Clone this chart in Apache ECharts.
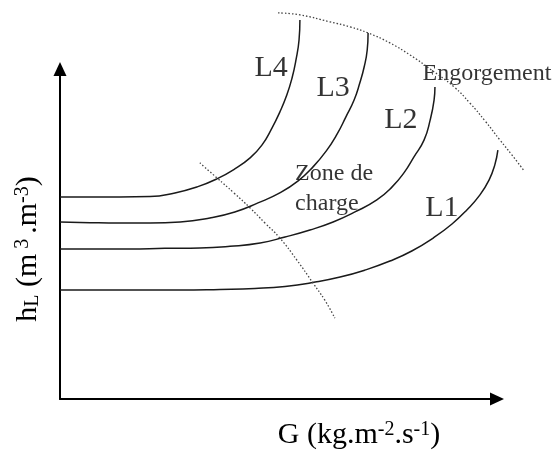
<!DOCTYPE html>
<html>
<head>
<meta charset="utf-8">
<script src="https://cdn.jsdelivr.net/npm/echarts@6/dist/echarts.min.js"></script>
<style>
  html, body { margin: 0; padding: 0; background: #fff; }
  #chart { width: 554px; height: 455px; }
</style>
</head>
<body>
<div id="chart"></div>
<script>
// G (x) and hL (y) in arbitrary units, the drawn axes run 0-100
const l1X = [0, 9.2, 18.3, 27.5, 36.6, 44.6, 51.5, 58.4, 64.1, 69.8, 75.5, 80.5, 85.4, 89.7, 93.1, 96.1, 98.2, 99.5, 100.2]
const l1Y = [33.8, 33.8, 33.8, 33.8, 34.0, 34.3, 34.9, 36.2, 37.7, 39.8, 42.5, 45.5, 49.4, 53.6, 57.8, 62.3, 66.8, 71.3, 75.7]

const l2X = [0, 8.0, 16.0, 24.0, 32.0, 38.9, 45.8, 51.5, 57.2, 62.5, 67.5, 72.5, 76.0, 78.7, 81.0, 83.3, 84.7, 85.6, 85.8]
const l2Y = [46.1, 46.1, 46.1, 46.3, 46.4, 46.9, 47.9, 49.7, 51.8, 54.2, 57.2, 60.8, 64.7, 68.9, 73.7, 78.7, 84.7, 90.7, 94.6]

const l3X = [0, 6.9, 13.7, 20.6, 27.5, 34.3, 40.0, 45.3, 50.3, 54.5, 57.9, 60.9, 63.4, 65.4, 67.3, 68.6, 69.6, 70.3, 70.5]
const l3Y = [54.2, 54.0, 53.9, 53.9, 54.2, 55.4, 57.2, 59.9, 62.9, 66.5, 70.7, 75.4, 80.5, 85.6, 90.7, 95.8, 100.6, 105.7, 110.8]

const l4X = [0, 6.9, 13.7, 20.6, 26.3, 31.4, 35.9, 40.0, 43.5, 46.2, 48.5, 50.3, 51.9, 53.1, 54.0, 54.7, 54.9]
const l4Y = [61.7, 61.7, 61.7, 61.8, 62.9, 64.7, 67.1, 70.1, 73.4, 77.2, 82.3, 87.1, 92.2, 97.3, 102.7, 108.7, 114.7]

// zone de charge boundary
const chargeX = [32.0, 35.9, 39.8, 43.5, 46.9, 50.3, 54.2, 57.9, 60.6, 62.9]
const chargeY = [71.9, 67.4, 62.9, 58.4, 53.9, 49.4, 42.8, 35.9, 30.8, 25.4]

// engorgement (flooding) boundary
const floodX = [49.9, 54.9, 61.8, 66.4, 70.5, 75.5, 80.1, 84.7, 90.2, 93.8, 97.3, 100.7, 103.4, 106.2]
const floodY = [116.8, 116.2, 114.1, 112.6, 110.8, 107.8, 104.2, 100.0, 94.6, 89.8, 84.4, 78.7, 74.3, 69.5]

// text annotations
const labelNames = ['L4', 'L3', 'L2', 'L1', 'Engorgement', 'Zone de\ncharge']
const labelX = [48.3, 62.5, 78.0, 87.4, 97.7, 53.8]
const labelY = [100.3, 94.3, 84.7, 58.4, 98.5, 64.1]

const serif = '"Liberation Serif", "Times New Roman", serif'

const pairs = (xs, ys) => xs.map((x, i) => [x, ys[i]])

// curves go on a second, hidden grid with the same scale but more room,
// so the parts that run past the arrow heads are not cut off
const curve = (xs, ys) => ({
  type: 'line',
  xAxisIndex: 1,
  yAxisIndex: 1,
  data: pairs(xs, ys),
  smooth: 0.5,
  symbol: 'none',
  lineStyle: { color: '#1a1a1a', width: 1.5 }
})

const dotted = (xs, ys) => ({
  type: 'line',
  xAxisIndex: 1,
  yAxisIndex: 1,
  data: pairs(xs, ys),
  smooth: 0.5,
  symbol: 'none',
  lineStyle: { color: '#444', width: 1.3, type: [1.5, 2] }
})

const chart = echarts.init(document.getElementById('chart'))

const axisCommon = {
  type: 'value',
  min: 0,
  max: 100,
  axisLine: {
    show: true,
    symbol: ['none', 'triangle'],
    symbolSize: [13, 14],
    lineStyle: { color: '#000', width: 2 }
  },
  axisTick: { show: false },
  axisLabel: { show: false },
  splitLine: { show: false }
}

const hiddenAxis = {
  type: 'value',
  gridIndex: 1,
  min: 0,
  show: false,
  splitLine: { show: false }
}

const option = {
  animation: false,
  backgroundColor: '#fff',
  grid: [
    { left: 60, right: 57, top: 69, bottom: 52 },
    // same px per unit: 437px / 100 in x, 334px / 100 in y
    { left: 60, right: 13.3, top: 2.2, bottom: 52 }
  ],
  xAxis: [
    {
      ...axisCommon,
      name: '{m|G (kg.m}{s|-2}{m|.s}{s|-1}{m|)}',
      nameLocation: 'middle',
      nameGap: 21,
      nameTextStyle: {
        padding: [0, 0, 0, 161],
        rich: {
          m: { fontFamily: serif, fontSize: 30, lineHeight: 30, color: '#000' },
          s: { fontFamily: serif, fontSize: 20, lineHeight: 22, verticalAlign: 'top', color: '#000' }
        }
      }
    },
    { ...hiddenAxis, max: 110 }
  ],
  yAxis: [
    {
      ...axisCommon,
      name: '{m|h}{b|L}{m| (m}{s| 3 }{m|.m}{s|-3}{m|)}',
      nameLocation: 'middle',
      nameRotate: 90,
      nameGap: 17,
      nameTextStyle: {
        padding: [0, 30, 0, 0],
        rich: {
          m: { fontFamily: serif, fontSize: 30, lineHeight: 30, color: '#000' },
          s: { fontFamily: serif, fontSize: 20, lineHeight: 18, verticalAlign: 'top', color: '#000' },
          b: { fontFamily: serif, fontSize: 20, lineHeight: 14, verticalAlign: 'bottom', color: '#000' }
        }
      }
    },
    { ...hiddenAxis, max: 120 }
  ],
  series: [
    curve(l1X, l1Y),
    curve(l2X, l2Y),
    curve(l3X, l3Y),
    curve(l4X, l4Y),
    dotted(chargeX, chargeY),
    dotted(floodX, floodY),
    {
      type: 'scatter',
      xAxisIndex: 1,
      yAxisIndex: 1,
      symbolSize: 0,
      data: labelNames.map((n, i) => {
        const isL = n.length === 2
        const item = {
          name: n,
          value: [labelX[i], labelY[i]],
          label: {
            fontSize: isL ? 30 : 24
          }
        }
        if (n.indexOf('Zone') === 0) {
          item.label.align = 'left'
          item.label.lineHeight = 30
        }
        return item
      }),
      label: {
        show: true,
        position: 'inside',
        formatter: p => p.name,
        fontFamily: serif,
        color: '#000'
      }
    }
  ]
}

chart.setOption(option)
</script>
</body>
</html>
